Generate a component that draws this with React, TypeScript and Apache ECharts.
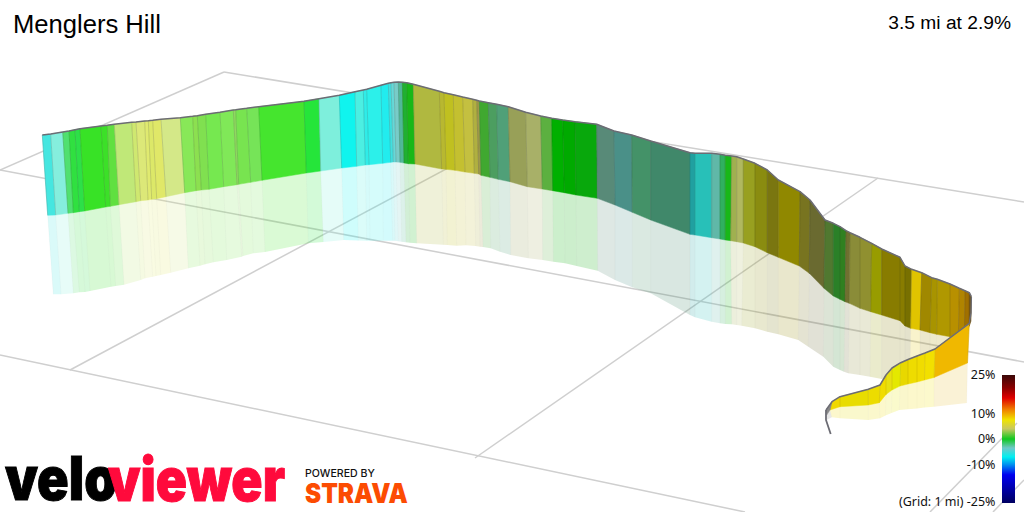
import React, { useEffect, useRef } from "react";
import * as echarts from "echarts";

const title = "Menglers Hill";
const summary = "3.5 mi at 2.9%";
const gradeLabels = ["25%", "10%", "0%", "-10%", "(Grid: 1 mi) -25%"];

// Perspective ground grid: [x1, y1, x2, y2]
const gridRows = [
  [224, 72, 1024, 202],
  [224, 72, 0, 170],
  [0, 170, 1024, 362],
  [0, 355, 745, 512],
  [70, 370, 534, 122],
  [475, 458, 878, 178],
  [930, 512, 1017, 423],
  [993, 512, 1024, 480],
];

// Far section of the climb, one entry per sampled point
const backTopX = [42.3,50.7,62.7,69,75,80,101,107.3,114.3,131.7,136,144.7,148.3,152.7,161,180.3,192.7,197.3,205.7,220,233.3,235.7,246.7,258.7,304,319,339.3,355,363.3,366.7,381,388.3,391,394,398.3,402.3,406.7,413.3,439.3,444,453.3,462.7,472.7,476.7,479.3,488.3,496.7,508.3,525.7,540.7,551.7,562.7,575,596.7,614,631.7,650.7,690,695,711.7,720,725.3,731.7,736.7,743.3,755,767.3,778.3,800,810,825,833.3,840,846,850,860,871.7,881.7,900,905,911.7,921.7,931.7,937.3,950,959.3,965,969.3,971.3];
const backTopY = [135,134,132,131,129.7,128.7,126,125.3,124.3,122.3,122,121,120.7,120.3,119.3,117.7,116.3,115.7,114.3,112.3,110,109.7,108.3,106.7,101.3,98.7,95.3,91.7,90,89.3,85.3,83.3,82.7,82.3,82,82.3,82.7,84.3,91.3,92.7,94.7,97,99.3,100.3,101,102.7,104.3,106.7,112.3,116,118.3,120,121.7,124.3,131,135,141,152.7,153.3,153.3,154.3,155.3,156,156.7,159,163.3,170,180,191.7,200,220,223.3,226.7,230.7,232.7,237.3,243.3,249,257.3,266,269.3,272.7,277.7,279.3,284,288.3,290.7,292.7,296.7];
const backBaseX = [47.7,55.7,68,73.3,79.3,84.7,105.7,110.3,119,136,140.7,148,151.7,156.7,166,184.7,196,201.3,209,223.7,237,238.7,250.7,262,306.3,320.7,341.7,356.7,365.3,369,382.7,390.7,393.3,396,400,404,408.3,415,441.7,446,455,465,474.3,478.7,481,490,498.3,510,527.3,542.3,552.7,564.3,576,597.3,615,632.3,650.7,690,695,711.7,720,725.3,730.7,736.7,743.3,755,767.3,778.3,799.3,809.3,824,833.3,840,845,849.3,860,870.7,881.7,900,905,910.7,920,930,936.7,950,958.3,964.3,969.3,971];
const backBaseY = [215.3,215,213.3,212.7,211.7,211,207,206.3,204.7,201.7,200.7,200,199.3,198.7,196.7,192.7,190.7,190,189.3,186.7,184.7,184.3,182.3,180.3,173,171,168,166.3,165,164.7,163.3,162.3,162,162,162.3,163,163.7,164,169,169.3,170.3,172,173.3,174,175.3,177.3,179.3,181.7,186.7,189,190.7,192.7,195,198.3,205,212.3,220,234.3,235,237.7,239,240,240.7,241.7,243,246.7,252.7,257.3,266,273.3,288.3,296,299.3,301.7,303.3,308.3,311.7,315,320.7,326,328.3,330,332.7,334.3,336.7,338.3,337.3,326,321];
const backShadowX = [53.3,61,73.3,79.3,85,90,111,115.7,124,140.7,145,152.7,156,160.7,170.7,188.3,200,205,213.3,226.7,241.7,243,253.3,265,308.3,323.3,343.7,358.3,366.7,370,383.3,392.7,395,398.3,401.7,406,410,416.7,443.3,447.3,456.7,466,475.7,480,483,490.7,500,510.7,528.3,542.7,553.3,565,576.7,597.7,615,632.3,650.7,690,695,711.7,720,725.3,731.7,736.7,741.7,755,767.3,778.3,798.3,808.3,823.3,833.3,840,844,848.3,860,870,881.7,900,905,910,920,930,936,950,958,964,969.3,971];
const backShadowY = [294.3,294.3,293.3,292.3,292,291,286.7,286,284.7,280,278.3,276.7,276,275,272.7,268.3,265.7,264.3,262.3,260,256.7,256,253.3,252,243.3,242,240,240.5,240.7,240.7,240.7,240.7,240.7,241.3,241.7,242.3,242.7,243.3,244.7,245,245.7,245.3,246,246.7,247,248.3,251.7,255,258.3,260,261.7,263.3,266,270.7,280,287.3,293.3,315,317.3,321.7,323.3,324,324.3,325,325.7,328.3,331.7,334.3,340,346.7,356.7,366.7,370,371.7,373.3,375,376.7,379,375,373,371,366,358,352,341,338.3,337.3,326,321];
const backColors = ["#45e6e0","#85eedd","#50e070","#30e040","#2de048","#38e226","#3ce028","#60e040","#c0e878","#cfe870","#dce878","#e0ea70","#dce868","#e0e868","#d4e888","#88e858","#8ce050","#80e050","#76e850","#80e858","#90d860","#78e450","#76e458","#45e52e","#25e53a","#7eefdc","#10f4ee","#4cefe2","#30ece8","#2cf0ea","#22ecee","#40e0e0","#66d8d8","#78ccc8","#50b898","#20b030","#18b818","#b0b840","#b8b830","#c0c020","#c4c030","#c4c040","#b0b040","#a09848","#40a830","#4c9e60","#50a078","#98a058","#a8b068","#5cb040","#00b000","#00aa00","#08a80c","#588a78","#4a9088","#449268","#40886a","#20a0a0","#28c0b8","#60b8a8","#30b060","#18b818","#a0b050","#b0b860","#98a020","#8a8c10","#7a7610","#908800","#787420","#6a6a30","#507830","#2a8028","#308020","#707030","#8a8c38","#909030","#989c00","#887c00","#887c00","#787000","#e0c400","#a08800","#a89400","#b09800","#b89000","#b08400","#a07000","#704c00"];

// Near section of the climb, after the hairpin
const frontTopX = [969.3,935,925,917,908,900.7,892,886,880,868.3,840,832,826];
const frontTopY = [323.3,349,353,356,359.5,362.7,368,375,385,389.3,396.7,401.7,410];
const frontBaseX = [967.5,934,924.5,917,908,900,892,886,879.3,868.3,840,830,826.7];
const frontBaseY = [363,377.5,380,382,384,386,390,394.5,402.7,405,406.7,410,415];
const frontShadowX = [966.7,934,924.5,917,908,899.3,891.5,885.5,880,868.3,840,831.7,826.7];
const frontShadowY = [403,406.7,407.5,408.5,409.2,410,413,415.5,418.3,420,418.3,417.3,420];
const frontColors = ["#f0b800","#f2e000","#f0dc00","#eedc00","#e8d800","#e4e800","#e8e010","#f0dc00","#ecdc00","#e8dc00","#f0d800"];
const frontShadowColors = ["#e4c030","#f2e000","#f0dc00","#eedc00","#e8d800","#e4e800","#e8e010","#f0dc00","#ecdc00","#e8dc00","#f0d800"];
const tailX = [826, 826, 830.7];
const tailY = [410, 420, 434];

type Row = number[];
const hinge = (tx: number[], ty: number[], bx: number[], by: number[]): Row[] =>
  tx.slice(0, -1).map((_, i) => [i, tx[i], ty[i], tx[i + 1], ty[i + 1], bx[i + 1], by[i + 1], bx[i], by[i]]);

function ribbon(
  tx: number[], ty: number[], bx: number[], by: number[],
  colors: string[], opacity: number, seam: string, z: number,
) {
  return {
    type: "custom", z, silent: true, clip: false, coordinateSystem: "cartesian2d",
    encode: { x: 1, y: 2 },
    data: hinge(tx, ty, bx, by),
    renderItem: (_p: any, api: any) => {
      const i = api.value(0);
      const pts = [[1, 2], [3, 4], [5, 6], [7, 8]].map(([a, b]) => api.coord([api.value(a), api.value(b)]));
      const fill = colors[i] || "#888888";
      return {
        type: "group",
        children: [
          { type: "polygon", shape: { points: pts }, style: { fill, stroke: fill, lineWidth: opacity < 1 ? 0 : 0.5, opacity } },
          { type: "line", shape: { x1: pts[0][0], y1: pts[0][1], x2: pts[3][0], y2: pts[3][1] }, style: { stroke: seam, lineWidth: 1 } },
        ],
      };
    },
  };
}

const outline = (xs: number[], ys: number[], z: number, width = 1.5) => ({
  type: "line", z, silent: true, symbol: "none", clip: false, animation: false,
  data: xs.map((x, i) => [x, ys[i]]),
  lineStyle: { color: "#6c6c74", width },
});

function buildOption() {
  return {
    animation: false,
    grid: { left: 0, right: 0, top: 0, bottom: 0 },
    xAxis: { type: "value", min: 0, max: 1024, show: false },
    yAxis: { type: "value", min: 0, max: 512, inverse: true, show: false },
    series: [
      {
        type: "custom", z: 1, silent: true, coordinateSystem: "cartesian2d", encode: { x: 0, y: 1 },
        data: gridRows,
        renderItem: (_p: any, api: any) => {
          const a = api.coord([api.value(0), api.value(1)]);
          const b = api.coord([api.value(2), api.value(3)]);
          return { type: "line", shape: { x1: a[0], y1: a[1], x2: b[0], y2: b[1] }, style: { stroke: "#cfcfcf", lineWidth: 1.5 } };
        },
      },
      ribbon(backBaseX, backBaseY, backShadowX, backShadowY, backColors, 0.2, "rgba(120,120,120,0.04)", 2),
      ribbon(backTopX, backTopY, backBaseX, backBaseY, backColors, 1, "rgba(30,40,30,0.16)", 3),
      outline(backTopX, backTopY, 4),
      ribbon(frontBaseX, frontBaseY, frontShadowX, frontShadowY, frontShadowColors, 0.2, "rgba(120,120,120,0.03)", 5),
      ribbon(frontTopX, frontTopY, frontBaseX, frontBaseY, frontColors, 1, "rgba(120,90,0,0.14)", 6),
      outline([971.3, 971, 969.3].concat(frontTopX), [296.7, 313, 323.3].concat(frontTopY), 7),
      outline(tailX, tailY, 7, 1.8),
    ],
    graphic: [
      { type: "text", z: 20, style: { x: 13, y: 24, text: title, font: '25.6px "Liberation Sans"', fill: "#000", verticalAlign: "middle" } },
      { type: "text", z: 20, style: { x: 1011, y: 22, text: summary, font: '19.2px "Liberation Sans"', fill: "#000", align: "right", verticalAlign: "middle" } },
      ...[374.5, 413.7, 438.7, 464.7, 501.7].map((y, i) => ({
        type: "text", z: 20,
        style: { x: 995.5, y, text: gradeLabels[i], font: '12.5px "Noto Sans"', fill: "#111", align: "right", verticalAlign: "middle" },
      })),
      {
        type: "rect", z: 20, shape: { x: 1002, y: 375, width: 13, height: 128 },
        style: {
          fill: new echarts.graphic.LinearGradient(0, 0, 0, 1, [
            { offset: 0, color: "#3a0808" }, { offset: 0.1, color: "#8a0000" }, { offset: 0.18, color: "#e00000" },
            { offset: 0.27, color: "#f08000" }, { offset: 0.35, color: "#f0e400" }, { offset: 0.42, color: "#c8c860" },
            { offset: 0.5, color: "#10c820" }, { offset: 0.57, color: "#70c8c8" }, { offset: 0.64, color: "#00f0f0" },
            { offset: 0.7, color: "#0090f0" }, { offset: 0.78, color: "#0000f0" }, { offset: 1, color: "#000060" },
          ]),
        },
      },
      { type: "text", z: 20, x: 5, y: 479, scaleX: 0.87, style: { x: 0, y: 0, text: "velo", font: '900 60px Inter', fill: "#000", stroke: "#000", lineWidth: 1, verticalAlign: "middle" } },
      { type: "text", z: 20, x: 108, y: 479, scaleX: 0.86, style: { x: 0, y: 0, text: "viewer", font: '900 60px Inter', fill: "#ff0a3c", stroke: "#ff0a3c", lineWidth: 1, verticalAlign: "middle" } },
      { type: "text", z: 20, x: 305, y: 473, scaleX: 1.06, style: { x: 0, y: 0, text: "POWERED BY", font: '500 10px Inter', fill: "#111", verticalAlign: "middle" } },
      { type: "text", z: 20, x: 305, y: 493, scaleX: 0.9, style: { x: 0, y: 0, text: "STRAVA", font: '900 27px Inter', fill: "#fc4c02", verticalAlign: "middle" } },
    ],
  };
}

export default function App() {
  const ref = useRef<HTMLDivElement>(null);
  useEffect(() => {
    const chart = echarts.init(ref.current!, undefined, { renderer: "svg" });
    chart.setOption(buildOption() as any);
    return () => chart.dispose();
  }, []);
  return <div ref={ref} style={{ position: "fixed", left: 0, top: 0, width: 1024, height: 512, background: "#fff" }} />;
}
